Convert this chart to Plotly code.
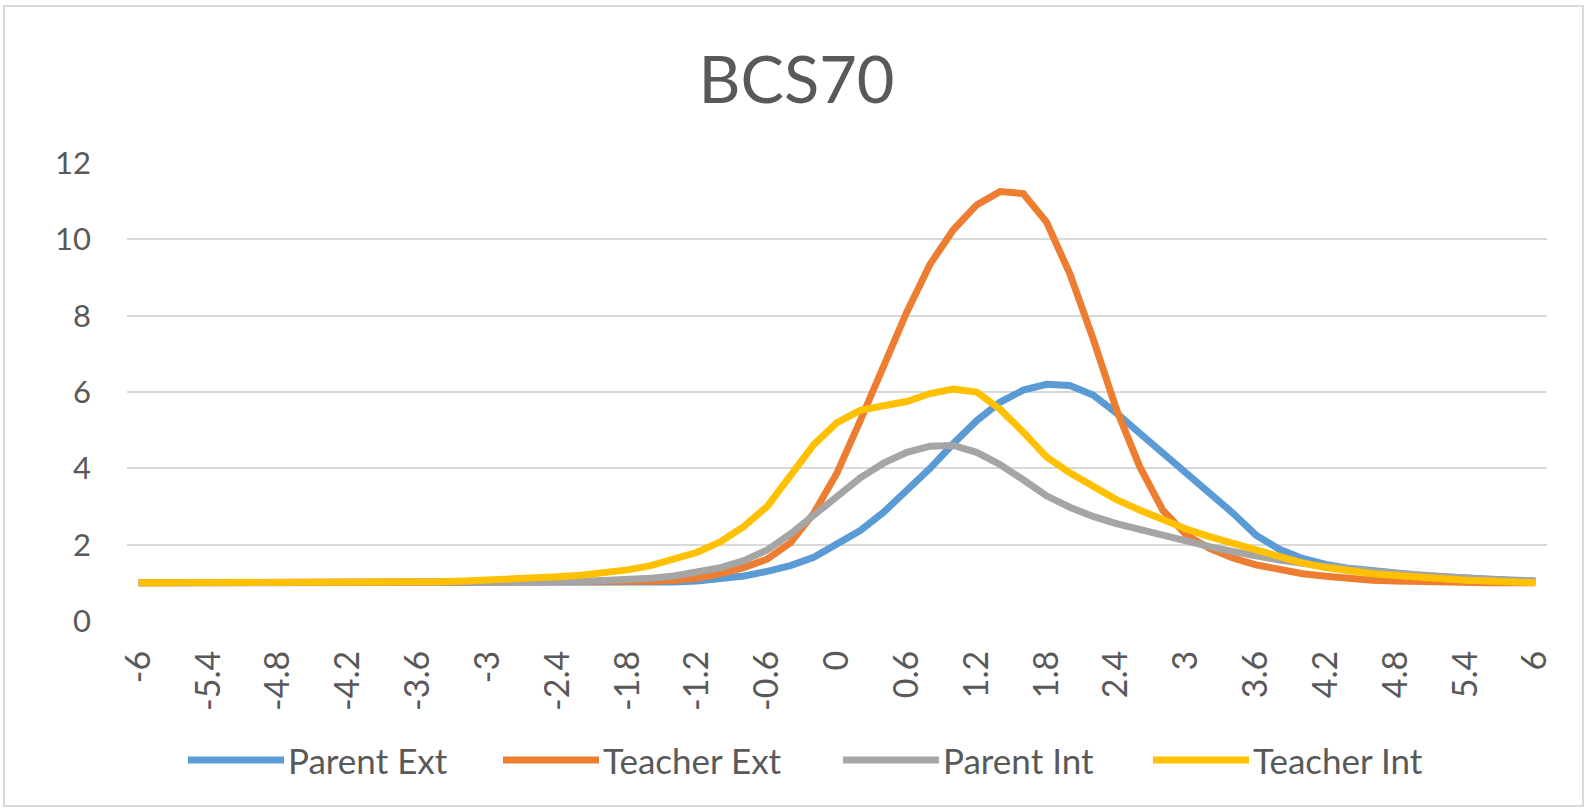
import plotly.graph_objects as go

# ---- data ----
x_values = [round(-6 + 0.2 * i, 1) for i in range(61)]

parent_ext = [1.0]*21 + [
    1.0, 1.01, 1.02, 1.05, 1.10, 1.18, 1.30, 1.45, 1.67,         # -1.8 .. -0.2
    2.00, 2.37, 2.85, 3.40, 4.00, 4.65, 5.25, 5.73, 6.05, 6.20,  # 0 .. 1.8
    6.17, 5.92, 5.45, 4.92, 4.40, 3.88, 3.35, 2.83, 2.25, 1.88,  # 2.0 .. 3.8
    1.64, 1.48, 1.38, 1.31, 1.26, 1.20, 1.16, 1.12, 1.09, 1.07, 1.05]  # 4.0 .. 6.0

teacher_ext = [1.0]*20 + [
    1.01, 1.02, 1.04, 1.07, 1.12, 1.24, 1.40, 1.62, 2.05, 2.82,       # -2.0 .. -0.2
    3.88, 5.25, 6.70, 8.10, 9.35, 10.25, 10.90, 11.25, 11.20, 10.45,  # 0 .. 1.8
    9.10, 7.40, 5.55, 4.05, 2.90, 2.26, 1.90, 1.65, 1.47, 1.34,       # 2.0 .. 3.8
    1.24, 1.17, 1.11, 1.07, 1.05, 1.03, 1.02, 1.01, 1.0, 1.0, 1.0]    # 4.0 .. 6.0

parent_int = [1.0]*16 + [
    1.01, 1.02, 1.03, 1.04, 1.06, 1.08, 1.12, 1.18, 1.28, 1.40,   # -2.8 .. -1.0
    1.58, 1.86, 2.28, 2.78,                                       # -0.8 .. -0.2
    3.26, 3.75, 4.14, 4.42, 4.58, 4.60, 4.42, 4.10, 3.70, 3.28,   # 0 .. 1.8
    2.98, 2.74, 2.55, 2.39, 2.23, 2.08, 1.95, 1.82, 1.70, 1.60,   # 2.0 .. 3.8
    1.51, 1.43, 1.36, 1.30, 1.25, 1.20, 1.16, 1.12, 1.09, 1.07, 1.05]  # 4.0 .. 6.0

teacher_int = [1.0]*12 + [
    1.02, 1.03, 1.05, 1.07, 1.09, 1.12, 1.16, 1.20, 1.26, 1.34,   # -3.6 .. -1.8
    1.45, 1.62, 1.80, 2.08, 2.48, 3.00, 3.79, 4.62,               # -1.6 .. -0.2
    5.20, 5.52, 5.64, 5.75, 5.96, 6.08, 6.00, 5.55, 4.95, 4.30,   # 0 .. 1.8
    3.88, 3.53, 3.18, 2.91, 2.65, 2.41, 2.21, 2.04, 1.85, 1.67,   # 2.0 .. 3.8
    1.52, 1.40, 1.31, 1.24, 1.19, 1.14, 1.10, 1.07, 1.05, 1.02, 1.00]  # 4.0 .. 6.0

series_names = ["Parent Ext", "Teacher Ext", "Parent Int", "Teacher Int"]
series_values = [parent_ext, teacher_ext, parent_int, teacher_int]
series_colors = ["#5B9BD5", "#ED7D31", "#A5A5A5", "#FFC000"]

x_tick_vals = [-6, -5.4, -4.8, -4.2, -3.6, -3, -2.4, -1.8, -1.2, -0.6, 0,
               0.6, 1.2, 1.8, 2.4, 3, 3.6, 4.2, 4.8, 5.4, 6]
x_tick_text = ["-6", "-5.4", "-4.8", "-4.2", "-3.6", "-3", "-2.4", "-1.8", "-1.2", "-0.6", "0",
               "0.6", "1.2", "1.8", "2.4", "3", "3.6", "4.2", "4.8", "5.4", "6"]
y_tick_vals = [0, 2, 4, 6, 8, 10, 12]

# ---- figure ----
W, H = 1593, 812
ML, MR, MT, MB = 127, 46, 163, 191
PW, PH = W - ML - MR, H - MT - MB
FONT = "Lato, 'Open Sans', sans-serif"
TXT = "#595959"

fig = go.Figure()
for name, vals, col in zip(series_names, series_values, series_colors):
    fig.add_trace(go.Scatter(
        x=x_values, y=vals, mode="lines", name=name,
        line=dict(color=col, width=7), showlegend=False,
    ))

def px_x(p):
    return (p - ML) / PW

def px_y(p):
    return (H - MB - p) / PH

shapes = [dict(type="rect", xref="paper", yref="paper",
               x0=px_x(4), x1=px_x(1583), y0=px_y(806), y1=px_y(6),
               line=dict(color="#D9D9D9", width=2), fillcolor="rgba(0,0,0,0)",
               layer="below")]
annotations = []

# custom legend (long line samples as in the reference)
legend_starts = [188, 503, 843, 1153]
sample_len = 96
legend_y = px_y(760)
for name, col, sx in zip(series_names, series_colors, legend_starts):
    shapes.append(dict(type="line", xref="paper", yref="paper",
                       x0=px_x(sx), x1=px_x(sx + sample_len), y0=legend_y, y1=legend_y,
                       line=dict(color=col, width=7)))
    annotations.append(dict(text=name, xref="paper", yref="paper",
                            x=px_x(sx + sample_len + 2), y=legend_y,
                            xanchor="left", yanchor="middle", showarrow=False,
                            font=dict(size=35, color=TXT, family=FONT)))

fig.update_layout(
    width=W, height=H,
    margin=dict(l=ML, r=MR, t=MT, b=MB, pad=0),
    paper_bgcolor="white", plot_bgcolor="white",
    font=dict(family=FONT, color=TXT),
    title=dict(text="BCS70", x=0.5, xanchor="center", y=1 - 80 / H, yanchor="middle",
               font=dict(size=65, color=TXT, family=FONT)),
    showlegend=False,
    shapes=shapes,
    annotations=annotations,
)

fig.update_xaxes(range=[-6.1, 6.1], tickvals=x_tick_vals, ticktext=x_tick_text,
                 tickangle=-90, showgrid=False, zeroline=False, showline=False,
                 ticks="", ticklabelstandoff=22,
                 tickfont=dict(size=34, color=TXT, family=FONT))
fig.update_yaxes(range=[0, 12], tickvals=y_tick_vals, showgrid=True,
                 gridcolor="#D9D9D9", gridwidth=2, zeroline=False, showline=False,
                 ticks="", ticklabelstandoff=35,
                 tickfont=dict(size=31, color=TXT, family=FONT))

fig.write_html("out.html", config={"displayModeBar": False},
               post_script="document.body.style.margin='0';")
